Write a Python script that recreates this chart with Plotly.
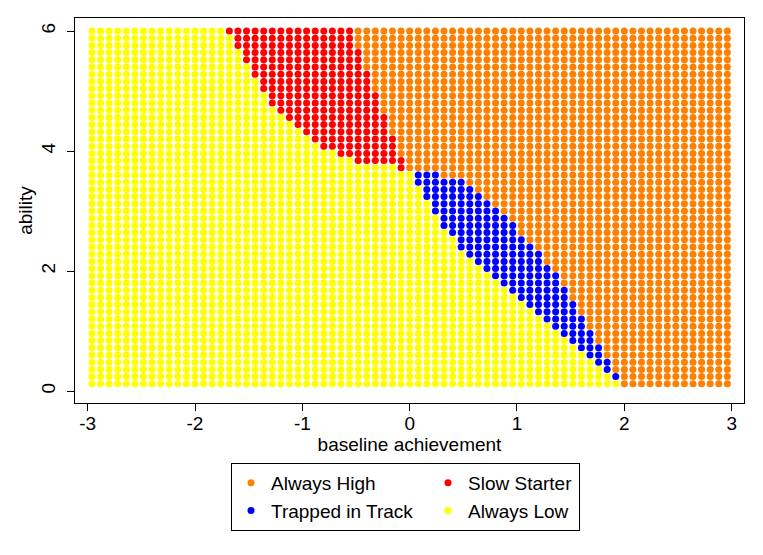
import plotly.graph_objects as go

# grid of simulated students: baseline achievement (columns) x ability (rows)
baseline = [
    -2.96, -2.88, -2.80, -2.72, -2.64, -2.56, -2.48, -2.40, -2.32, -2.24,
    -2.16, -2.08, -2.00, -1.92, -1.84, -1.76, -1.68, -1.60, -1.52, -1.44,
    -1.36, -1.28, -1.20, -1.12, -1.04, -0.96, -0.88, -0.80, -0.72, -0.64,
    -0.56, -0.48, -0.40, -0.32, -0.24, -0.16, -0.08, 0.00, 0.08, 0.16,
    0.24, 0.32, 0.40, 0.48, 0.56, 0.64, 0.72, 0.80, 0.88, 0.96,
    1.04, 1.12, 1.20, 1.28, 1.36, 1.44, 1.52, 1.60, 1.68, 1.76,
    1.84, 1.92, 2.00, 2.08, 2.16, 2.24, 2.32, 2.40, 2.48, 2.56,
    2.64, 2.72, 2.80, 2.88, 2.96,
]
ability = [
    0.12, 0.24, 0.36, 0.48, 0.60, 0.72, 0.84, 0.96, 1.08, 1.20,
    1.32, 1.44, 1.56, 1.68, 1.80, 1.92, 2.04, 2.16, 2.28, 2.40,
    2.52, 2.64, 2.76, 2.88, 3.00, 3.12, 3.24, 3.36, 3.48, 3.60,
    3.72, 3.84, 3.96, 4.08, 4.20, 4.32, 4.44, 4.56, 4.68, 4.80,
    4.92, 5.04, 5.16, 5.28, 5.40, 5.52, 5.64, 5.76, 5.88, 6.00,
]

# per ability row: first baseline that leaves "Always Low" and first that is "Always High"
mid_start = [
    2.00, 1.92, 1.84, 1.76, 1.68, 1.60, 1.52, 1.44, 1.36, 1.28,
    1.20, 1.12, 1.04, 0.96, 0.88, 0.80, 0.72, 0.64, 0.56, 0.48,
    0.48, 0.40, 0.32, 0.32, 0.24, 0.24, 0.16, 0.16, 0.08, 0.08,
    -0.08, -0.48, -0.64, -0.80, -0.88, -0.96, -1.04, -1.12, -1.20, -1.28,
    -1.28, -1.36, -1.36, -1.44, -1.44, -1.52, -1.52, -1.60, -1.60, -1.68,
]
high_start = [
    2.00, 2.00, 1.92, 1.92, 1.84, 1.84, 1.76, 1.76, 1.68, 1.68,
    1.60, 1.60, 1.52, 1.52, 1.44, 1.44, 1.36, 1.28, 1.28, 1.20,
    1.12, 1.04, 1.04, 0.96, 0.88, 0.80, 0.72, 0.64, 0.56, 0.32,
    0.00, 0.00, -0.08, -0.08, -0.08, -0.16, -0.16, -0.16, -0.24, -0.24,
    -0.24, -0.32, -0.32, -0.32, -0.40, -0.40, -0.40, -0.48, -0.48, -0.48,
]

x_ticks = [-3, -2, -1, 0, 1, 2, 3]
x_labels = ["-3", "-2", "-1", "0", "1", "2", "3"]
y_ticks = [0, 2, 4, 6]

groups = ["Always High", "Slow Starter", "Trapped in Track", "Always Low"]
colors = {"Always High": "#FF8000", "Slow Starter": "#FF0000",
          "Trapped in Track": "#0000FF", "Always Low": "#FFFF00"}

pts = {g: ([], []) for g in groups}
for a, lo, hi in zip(ability, mid_start, high_start):
    for b in baseline:
        if b >= hi - 1e-9:
            g = "Always High"
        elif b >= lo - 1e-9:
            g = "Slow Starter" if b < 0 else "Trapped in Track"
        else:
            g = "Always Low"
        pts[g][0].append(b)
        pts[g][1].append(a)

font = dict(family="Liberation Sans, Arial, sans-serif", size=19, color="black")

fig = go.Figure()
# two legend columns: (Always High, Trapped) and (Slow Starter, Always Low)
legend_col = {"Always High": ("c1", 152), "Trapped in Track": ("c1", 152),
              "Slow Starter": ("c2", 106), "Always Low": ("c2", 106)}
for g in groups:
    fig.add_scatter(
        x=pts[g][0], y=pts[g][1], mode="markers", name=g,
        marker=dict(size=7, color=colors[g], line=dict(width=0)),
        legendgroup=legend_col[g][0], legendwidth=legend_col[g][1],
    )

# page body adds 8px, so the figure is 8px smaller than the window
fig.update_layout(
    width=755, height=547, autosize=False,
    margin=dict(l=67, r=19, t=10, b=152, autoexpand=False),
    paper_bgcolor="white", plot_bgcolor="white",
    font=font,
    showlegend=True,
    legend=dict(
        orientation="h", traceorder="grouped",
        x=0.2332, xanchor="left", y=-0.1558, yanchor="top",
        bordercolor="black", borderwidth=1, bgcolor="white",
        font=font,
    ),
)
fig.update_xaxes(
    range=[-3.118, 3.115], tickvals=x_ticks, ticktext=x_labels,
    ticks="outside", ticklen=7, tickcolor="black", tickfont=font,
    ticklabelstandoff=-4,
    showgrid=False, zeroline=False, showline=True, mirror=True,
    linecolor="black", linewidth=1, automargin=False,
    title=dict(text="baseline achievement", font=font, standoff=0),
)
fig.update_yaxes(
    range=[-0.2, 6.217], tickvals=y_ticks, tickangle=-90,
    ticks="outside", ticklen=7, tickcolor="black", tickfont=font,
    ticklabelstandoff=4,
    showgrid=False, zeroline=False, showline=True, mirror=True,
    linecolor="black", linewidth=1, automargin=False,
    title=dict(text="ability", font=font, standoff=0),
)

fig.write_html("out.html")
